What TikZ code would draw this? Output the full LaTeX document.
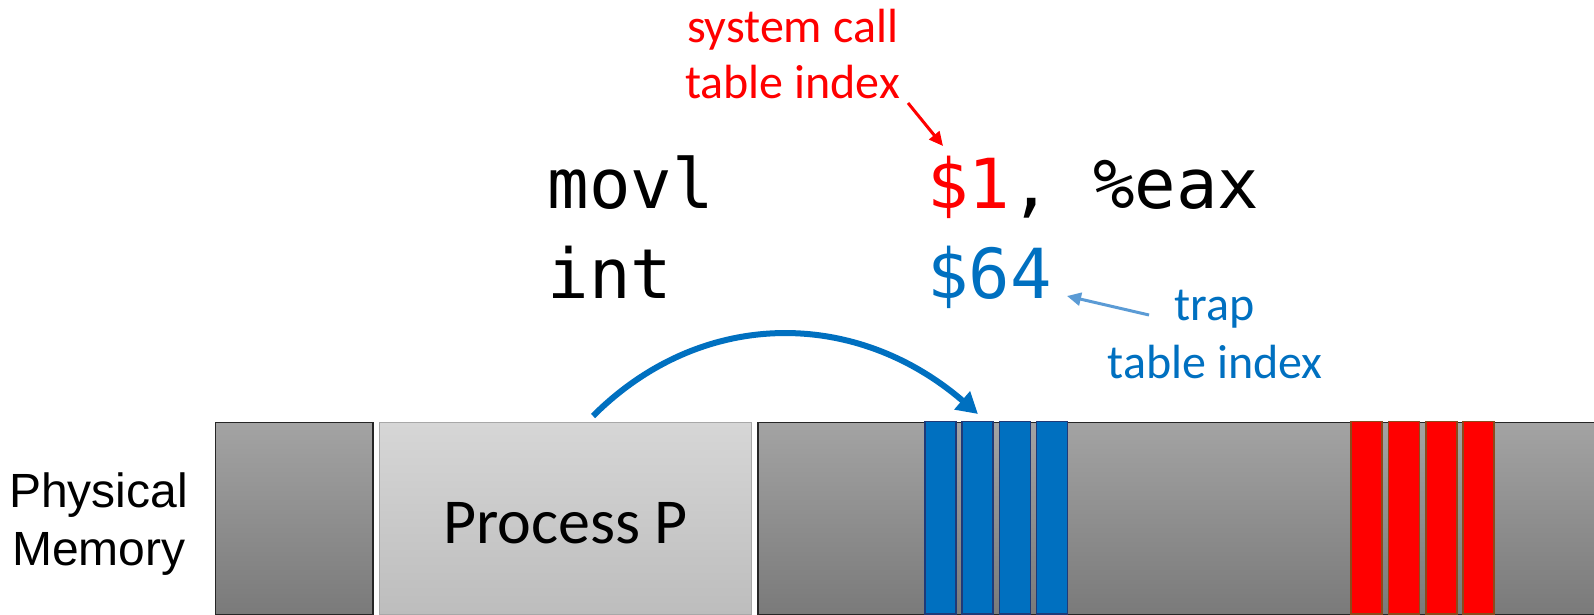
\documentclass[tikz,border=0pt]{standalone}
\usepackage{fontspec}
\setmainfont{Carlito}
\setmonofont{DejaVu Sans Mono}
\newfontfamily\labelsans{Liberation Sans}
\usetikzlibrary{arrows.meta}

\definecolor{trapblue}{HTML}{0070C0}
\definecolor{hintblue}{HTML}{5B9BD5}
\definecolor{sysred}{HTML}{FF0000}
\definecolor{memtop}{HTML}{A3A3A3}
\definecolor{membot}{HTML}{7A7A7A}
\definecolor{proctop}{HTML}{D6D6D6}
\definecolor{procbot}{HTML}{BDBDBD}
\definecolor{memedge}{HTML}{262626}
\definecolor{procedge}{HTML}{A8A8A8}
\definecolor{trapedge}{HTML}{1F3A78}
\definecolor{sysedge}{HTML}{8C4A1C}

\begin{document}
\begin{tikzpicture}[x=1pt,y=-1pt,
  block/.style={line width=1.5pt, inner sep=0pt, outer sep=0pt, minimum height=191.6pt},
  memblock/.style={block, draw=memedge, top color=memtop, bottom color=membot},
  procblock/.style={block, draw=procedge, top color=proctop, bottom color=procbot},
  slot/.style={line width=1.8pt, inner sep=0pt, outer sep=0pt, minimum width=31pt, minimum height=192.8pt},
  trapslot/.style={slot, draw=trapedge, fill=trapblue},
  sysslot/.style={slot, draw=sysedge, fill=sysred},
  code/.style={font=\ttfamily\fontsize{69}{80}\selectfont, inner sep=0pt, anchor=base west},
  hint/.style={font=\fontsize{48}{56}\selectfont, inner sep=0pt, anchor=base},
  memlabel/.style={font=\labelsans\fontsize{48}{56}\selectfont, inner sep=0pt, anchor=base},
  bigarc/.style={draw=trapblue, line width=6pt, -{Triangle[length=21pt,width=23pt]}},
  pointer/.style={line width=3pt, -{Triangle[length=14pt,width=13pt]}}
]
\useasboundingbox (0,0) rectangle (1594,615);
\clip (0,0) rectangle (1594,615);

% physical memory strip
\node[memblock, minimum width=157.3pt] (low) at (294.2,518.5) {};
\node[procblock, minimum width=372.2pt] (proc) at (565.5,518.5) {};
\node[font=\fontsize{64}{72}\selectfont, inner sep=0pt, anchor=base] (proclabel) at (565.5,543) {Process P};
\node[memblock, minimum width=852pt] (kernel) at (1184,518.5) {};

% trap table entries
\foreach \i in {0,1,2,3}
  \node[trapslot] (trap\i) at ({940.7+37.1*\i},517.9) {};
% system call table entries
\foreach \i in {0,1,2,3}
  \node[sysslot] (sys\i) at ({1366.8+37.2*\i},517.9) {};

\node[memlabel] (mem1) at (98.5,507) {Physical};
\node[memlabel] (mem2) at (98.8,565) {Memory};

% the two instructions
\node[code] (op1) at (547.5,208) {movl};
\node[code] (op2) at (547.5,298) {int};
\node[code] (arg1) at (927,208) {\textcolor{sysred}{\$1}, \%eax};
\node[code, text=trapblue] (arg2) at (927,298) {\$64};

% annotations
\node[hint, text=sysred] (sc1) at (792.5,42.7) {system call};
\node[hint, text=sysred] (sc2) at (792.5,99) {table index};
\node[hint, text=trapblue] (tt1) at (1214.5,320.7) {trap};
\node[hint, text=trapblue] (tt2) at (1215.3,378) {table index};

\coordinate (sc-tail) at (908,103);
\coordinate (sc-tip) at (943,146);
\coordinate (tt-tail) at (1149,315);
\coordinate (tt-tip) at (1067,296);
\coordinate (jump-from) at (593,416);
\coordinate (jump-to) at (978,414);

\draw[pointer, draw=sysred, fill=sysred] (sc-tail) -- (sc-tip);
\draw[pointer, draw=hintblue, fill=hintblue] (tt-tail) -- (tt-tip);
\draw[bigarc] (jump-from) .. controls (701,308) and (855,308) .. (jump-to);
\end{tikzpicture}
\end{document}
